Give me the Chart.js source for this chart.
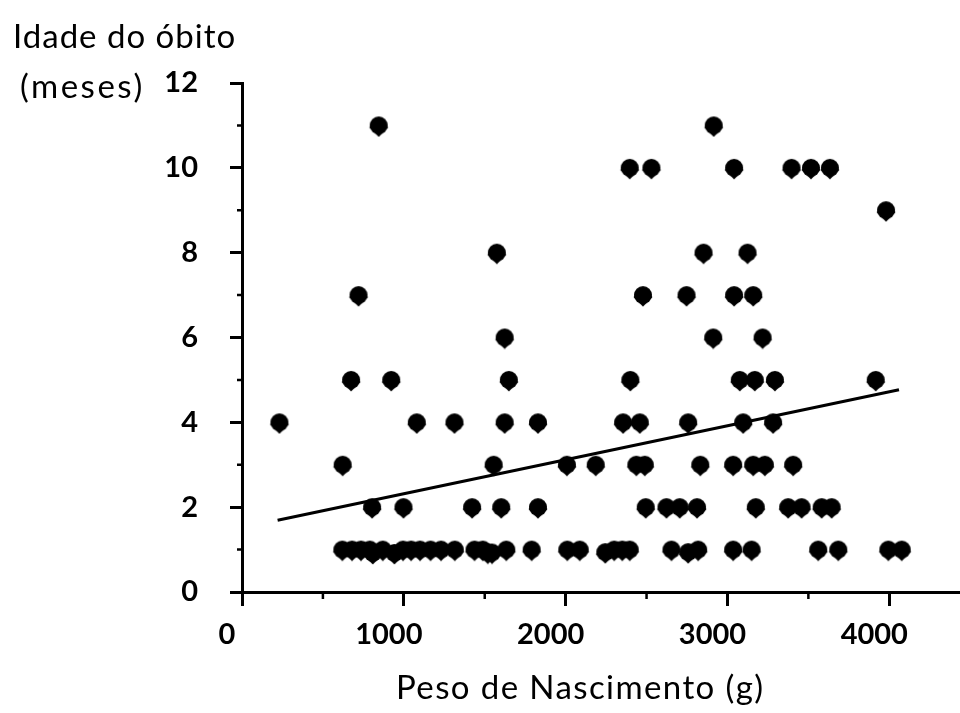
<!DOCTYPE html>
<html>
<head>
<meta charset="utf-8">
<script src="https://cdn.jsdelivr.net/npm/chart.js@4.4.1/dist/chart.umd.min.js"></script>
<style>
  html, body { margin: 0; padding: 0; background: #fff; overflow: hidden; }
  #wrap { position: relative; width: 960px; height: 713px; }
  .lbl { position: absolute; font-family: Lato, sans-serif; color: #000; white-space: nowrap; line-height: 1; font-size: 33px; letter-spacing: 1px; }
</style>
</head>
<body>
<div id="wrap">
  <canvas id="chart" width="960" height="713"></canvas>
  <div class="lbl" style="left:13px; top:19px;">Idade do óbito</div>
  <div class="lbl" style="left:20px; top:69px; letter-spacing:2.5px;">(meses)</div>
  <div class="lbl" style="left:396px; top:670px; letter-spacing:1.4px;">Peso de Nascimento (g)</div>
</div>
<script>
// birth weight (g) and age at death (months), one row per age level
const pesos = [
  845, 2915,
  2396, 2530, 3041, 3396, 3516, 3633,
  3980,
  1575, 2852, 3124,
  720, 2478, 2747, 3041, 3159,
  1623, 2912, 3217,
  674, 922, 1649, 2400, 3076, 3169, 3293, 3916,
  231, 1080, 1313, 1623, 1829, 2355, 2458, 2757, 3097, 3282,
  622, 1555, 2008, 2186, 2437, 2489, 2832, 3035, 3159, 3231, 3406,
  804, 998, 1422, 1602, 1829, 2495, 2623, 2705, 2812, 3175, 3375, 3458, 3582, 3644,
  620, 680, 735, 790, 808, 870, 942, 995, 1045, 1100, 1165, 1230, 1315,
  1437, 1488, 1519, 1545, 1633, 1790, 2010, 2087, 2245, 2300, 2350, 2396,
  2654, 2757, 2819, 3035, 3149, 3561, 3685, 3994, 4077
];
const idades = [
  11, 11,
  10, 10, 10, 10, 10, 10,
  9,
  8, 8, 8,
  7, 7, 7, 7, 7,
  6, 6, 6,
  5, 5, 5, 5, 5, 5, 5, 5,
  4, 4, 4, 4, 4, 4, 4, 4, 4, 4,
  3, 3, 3, 3, 3, 3, 3, 3, 3, 3, 3,
  2, 2, 2, 2, 2, 2, 2, 2, 2, 2, 2, 2, 2, 2,
  1, 1, 1, 1, 0.92, 1, 0.92, 1, 1, 1, 1, 1, 1,
  1, 1, 0.93, 0.93, 1, 1, 1, 1, 0.94, 1, 1, 1,
  1, 0.94, 1, 1, 1, 1, 1, 1, 1
];
// trend line end points as drawn
const trendX = [220, 4060];
const trendY = [1.69, 4.77];

const xTicks = [0, 500, 1000, 1500, 2000, 2500, 3000, 3500, 4000];
const xTickLabels = ['0', '', '1000', '', '2000', '', '3000', '', '4000'];
const yTicks = [0, 1, 2, 3, 4, 5, 6, 7, 8, 9, 10, 11, 12];
const yTickLabels = ['0', '', '2', '', '4', '', '6', '', '8', '', '10', '', '12'];

Chart.defaults.font.family = 'Lato, sans-serif';
Chart.defaults.color = '#000';

function marker() {
  const c = document.createElement('canvas');
  c.width = 22; c.height = 24;
  const g = c.getContext('2d');
  g.fillStyle = '#000';
  g.beginPath();
  g.arc(11, 12, 9, 0, Math.PI * 2);
  g.fill();
  g.beginPath();
  g.moveTo(11, 4.5);
  g.lineTo(20.5, 14);
  g.lineTo(11, 23.5);
  g.lineTo(1.5, 14);
  g.closePath();
  g.fill();
  return c;
}

// minor ticks are shorter than the major ones
const minorTicks = {
  id: 'minorTicks',
  afterDraw(chart) {
    const ctx = chart.ctx, x = chart.scales.x, y = chart.scales.y;
    ctx.save();
    ctx.strokeStyle = '#000';
    ctx.lineWidth = 2.5;
    ctx.beginPath();
    x.ticks.forEach((t, i) => {
      if (xTickLabels[i] === '') {
        const px = x.getPixelForValue(t.value);
        ctx.moveTo(px, x.top);
        ctx.lineTo(px, x.top + 7);
      }
    });
    y.ticks.forEach((t, i) => {
      if (yTickLabels[i] === '') {
        const py = y.getPixelForValue(t.value);
        ctx.moveTo(y.right - 5, py);
        ctx.lineTo(y.right, py);
      }
    });
    ctx.stroke();
    ctx.restore();
  }
};

const points = pesos.map((p, i) => ({ x: p, y: idades[i] }));
const trend = trendX.map((p, i) => ({ x: p, y: trendY[i] }));

new Chart(document.getElementById('chart'), {
  type: 'scatter',
  data: {
    datasets: [
      {
        data: points,
        pointStyle: marker(),
        pointRadius: 9,
        backgroundColor: '#000',
        borderColor: '#000'
      },
      {
        data: trend,
        showLine: true,
        pointRadius: 0,
        borderColor: '#000',
        borderWidth: 3
      }
    ]
  },
  options: {
    responsive: false,
    animation: false,
    devicePixelRatio: 1,
    layout: { autoPadding: false, padding: { top: 83, left: 0, right: 0, bottom: 0 } },
    plugins: { legend: { display: false }, tooltip: { enabled: false } },
    scales: {
      x: {
        type: 'linear',
        min: 0,
        max: 4437,
        afterBuildTicks: s => { s.ticks = xTicks.map(v => ({ value: v })); },
        afterFit: s => { s.height = 121; s.paddingLeft = 0; s.paddingRight = 0; },
        border: { display: true, color: '#000', width: 3 },
        grid: {
          drawOnChartArea: false,
          tickLength: 14,
          tickWidth: 3,
          tickColor: c => xTickLabels[c.index] === '' ? 'rgba(0,0,0,0)' : '#000'
        },
        ticks: {
          autoSkip: false,
          maxRotation: 0,
          padding: 11,
          labelOffset: -15,
          font: { size: 29, weight: 'bold' },
          callback: (v, i) => xTickLabels[i]
        }
      },
      y: {
        type: 'linear',
        min: 0,
        max: 12,
        afterBuildTicks: s => { s.ticks = yTicks.map(v => ({ value: v })); },
        afterFit: s => { s.width = 242; },
        border: { display: true, color: '#000', width: 3 },
        grid: {
          drawOnChartArea: false,
          tickLength: 12,
          tickWidth: 3,
          tickColor: c => yTickLabels[c.index] === '' ? 'rgba(0,0,0,0)' : '#000'
        },
        ticks: {
          autoSkip: false,
          padding: 32,
          font: { size: 29, weight: 'bold' },
          callback: (v, i) => yTickLabels[i]
        }
      }
    }
  },
  plugins: [minorTicks]
});
</script>
</body>
</html>
